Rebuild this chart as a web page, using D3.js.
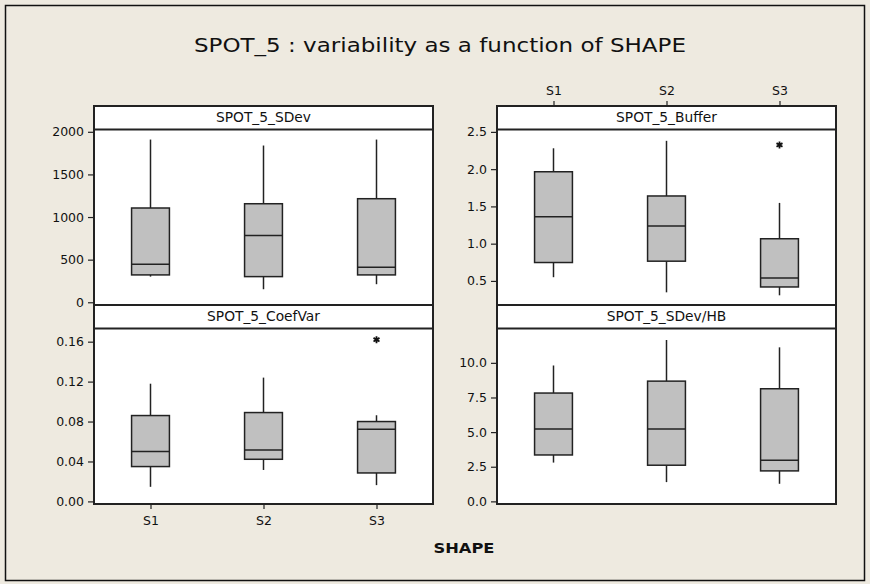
<!DOCTYPE html>
<html>
<head>
<meta charset="utf-8">
<script src="https://cdn.jsdelivr.net/npm/d3@7"></script>
<style>
  html, body { margin: 0; padding: 0; background: #EEEAE0; }
  svg { display: block; }
  text { font-family: "DejaVu Sans", Verdana, sans-serif; fill: #111; }
</style>
</head>
<body>
<svg id="chart" width="870" height="584"></svg>
<script>
// ---------------- DATA ----------------
const categories = ["S1", "S2", "S3"];
const panelNames = ["SPOT_5_SDev", "SPOT_5_Buffer", "SPOT_5_CoefVar", "SPOT_5_SDev/HB"];

// box statistics per category: [lower whisker, Q1, median, Q3, upper whisker]
const sdevStats    = [[301, 321, 447, 1106, 1909], [153, 301, 784, 1156, 1839], [212, 321, 412, 1215, 1909]];
const bufferStats  = [[0.55, 0.747, 1.36, 1.965, 2.28], [0.347, 0.765, 1.237, 1.64, 2.38], [0.307, 0.419, 0.54, 1.066, 1.547]];
const coefVarStats = [[0.0146, 0.0349, 0.0501, 0.086, 0.1179], [0.0315, 0.0422, 0.0515, 0.089, 0.124], [0.0163, 0.0285, 0.0724, 0.080, 0.0863]];
const sdevHbStats  = [[2.80, 3.35, 5.22, 7.82, 9.81], [1.39, 2.61, 5.22, 8.68, 11.65], [1.27, 2.20, 2.97, 8.13, 11.12]];

// outliers: [category, value]
const sdevOutliers    = [];
const bufferOutliers  = [["S3", 2.325]];
const coefVarOutliers = [["S3", 0.162]];
const sdevHbOutliers  = [];

// y tick values
const sdevTicks    = [0, 500, 1000, 1500, 2000];
const bufferTicks  = [0.5, 1.0, 1.5, 2.0, 2.5];
const coefVarTicks = [0.00, 0.04, 0.08, 0.12, 0.16];
const sdevHbTicks  = [0.0, 2.5, 5.0, 7.5, 10.0];

// y domains (scale extents of each panel)
const sdevDomain    = [-32, 2027];
const bufferDomain  = [0.177, 2.532];
const coefVarDomain = [-0.0026, 0.1732];
const sdevHbDomain  = [-0.19, 12.48];

const tickFormats = [d3.format("d"), d3.format(".1f"), d3.format(".2f"), d3.format(".1f")];

const titleText = "SPOT_5 : variability as a function of SHAPE";
const xTitle = "SHAPE";

// ---------------- LAYOUT ----------------
const svg = d3.select("#chart");
const W = 870, H = 584;

svg.append("rect").attr("x", 0).attr("y", 0).attr("width", W).attr("height", H).attr("fill", "#EEEAE0");
svg.append("rect").attr("x", 5.5).attr("y", 5.5).attr("width", 859).attr("height", 575)
  .attr("fill", "none").attr("stroke", "#111").attr("stroke-width", 1.5);

svg.append("text").attr("x", 440).attr("y", 52).attr("text-anchor", "middle")
  .attr("textLength", 492).attr("lengthAdjust", "spacingAndGlyphs")
  .style("font-size", "20px").text(titleText);

const cols = [[94, 433], [497, 836]];
const rows = [[106, 305], [305, 504]];
const stripH = 23.5;

const panels = [
  { name: panelNames[0], stats: sdevStats,    out: sdevOutliers,    ticks: sdevTicks,    dom: sdevDomain,    c: 0, r: 0 },
  { name: panelNames[1], stats: bufferStats,  out: bufferOutliers,  ticks: bufferTicks,  dom: bufferDomain,  c: 1, r: 0, topAxis: true },
  { name: panelNames[2], stats: coefVarStats, out: coefVarOutliers, ticks: coefVarTicks, dom: coefVarDomain, c: 0, r: 1, bottomAxis: true },
  { name: panelNames[3], stats: sdevHbStats,  out: sdevHbOutliers,  ticks: sdevHbTicks,  dom: sdevHbDomain,  c: 1, r: 1 }
];

const lineCol = "#222";

panels.forEach((p, i) => {
  const [x0, x1] = cols[p.c];
  const [y0, y1] = rows[p.r];
  const plotTop = y0 + stripH;

  const x = d3.scalePoint().domain(categories).range([x0, x1]).padding(0.5);
  const y = d3.scaleLinear().domain(p.dom).range([y1, plotTop]);
  const bw = x.step() * 0.335;

  const g = svg.append("g");

  // panel background
  g.append("rect").attr("x", x0).attr("y", y0).attr("width", x1 - x0).attr("height", y1 - y0)
    .attr("fill", "#fff");

  // strip
  g.append("text").attr("x", (x0 + x1) / 2).attr("y", y0 + stripH / 2 + 4.5)
    .attr("text-anchor", "middle").style("font-size", "13.8px").text(p.name);
  g.append("line").attr("x1", x0).attr("x2", x1).attr("y1", plotTop).attr("y2", plotTop)
    .attr("stroke", lineCol).attr("stroke-width", 2);

  // boxes
  const bx = g.selectAll("g.box").data(p.stats).join("g").attr("class", "box");
  bx.append("line")
    .attr("x1", (d, j) => x(categories[j])).attr("x2", (d, j) => x(categories[j]))
    .attr("y1", d => y(d[3])).attr("y2", d => y(d[4]))
    .attr("stroke", lineCol).attr("stroke-width", 1.5);
  bx.append("line")
    .attr("x1", (d, j) => x(categories[j])).attr("x2", (d, j) => x(categories[j]))
    .attr("y1", d => y(d[1])).attr("y2", d => y(d[0]))
    .attr("stroke", lineCol).attr("stroke-width", 1.5);
  bx.append("rect")
    .attr("x", (d, j) => x(categories[j]) - bw / 2).attr("width", bw)
    .attr("y", d => y(d[3])).attr("height", d => y(d[1]) - y(d[3]))
    .attr("fill", "#C0C0C0").attr("stroke", lineCol).attr("stroke-width", 1.5);
  bx.append("line")
    .attr("x1", (d, j) => x(categories[j]) - bw / 2).attr("x2", (d, j) => x(categories[j]) + bw / 2)
    .attr("y1", d => y(d[2])).attr("y2", d => y(d[2]))
    .attr("stroke", lineCol).attr("stroke-width", 1.5);

  // outliers (asterisks)
  const star = "M0,-3.5V3.5M-3,-1.8L3,1.8M-3,1.8L3,-1.8";
  g.selectAll("path.out").data(p.out).join("path").attr("class", "out")
    .attr("transform", d => `translate(${x(d[0])},${y(d[1])})`)
    .attr("d", star).attr("stroke", "#111").attr("stroke-width", 1.8).attr("fill", "none");

  // panel frame
  g.append("rect").attr("x", x0).attr("y", y0).attr("width", x1 - x0).attr("height", y1 - y0)
    .attr("fill", "none").attr("stroke", lineCol).attr("stroke-width", 2);

  // y axis
  const ya = d3.axisLeft(y).tickValues(p.ticks).tickFormat(tickFormats[i]).tickSize(6).tickPadding(4);
  const yg = svg.append("g").attr("transform", `translate(${x0},0)`).call(ya);
  yg.select(".domain").remove();
  yg.selectAll(".tick line").attr("stroke", lineCol).attr("stroke-width", 1.2);
  yg.selectAll(".tick text").style("font-size", "12.5px").style("font-family", "DejaVu Sans, sans-serif").attr("fill", "#111");

  if (p.topAxis) {
    const xa = d3.axisTop(x).tickSize(5).tickPadding(6);
    const xg = svg.append("g").attr("transform", `translate(0,${y0})`).call(xa);
    xg.select(".domain").remove();
    xg.selectAll(".tick line").attr("stroke", lineCol).attr("stroke-width", 1.2);
    xg.selectAll(".tick text").style("font-size", "12.5px").style("font-family", "DejaVu Sans, sans-serif").attr("fill", "#111");
  }
  if (p.bottomAxis) {
    const xa = d3.axisBottom(x).tickSize(5).tickPadding(7);
    const xg = svg.append("g").attr("transform", `translate(0,${y1})`).call(xa);
    xg.select(".domain").remove();
    xg.selectAll(".tick line").attr("stroke", lineCol).attr("stroke-width", 1.2);
    xg.selectAll(".tick text").style("font-size", "12.5px").style("font-family", "DejaVu Sans, sans-serif").attr("fill", "#111");
  }
});

svg.append("text").attr("x", 464).attr("y", 553).attr("text-anchor", "middle")
  .attr("textLength", 61).attr("lengthAdjust", "spacingAndGlyphs")
  .style("font-size", "14.5px").style("font-weight", "bold").text(xTitle);
</script>
</body>
</html>
